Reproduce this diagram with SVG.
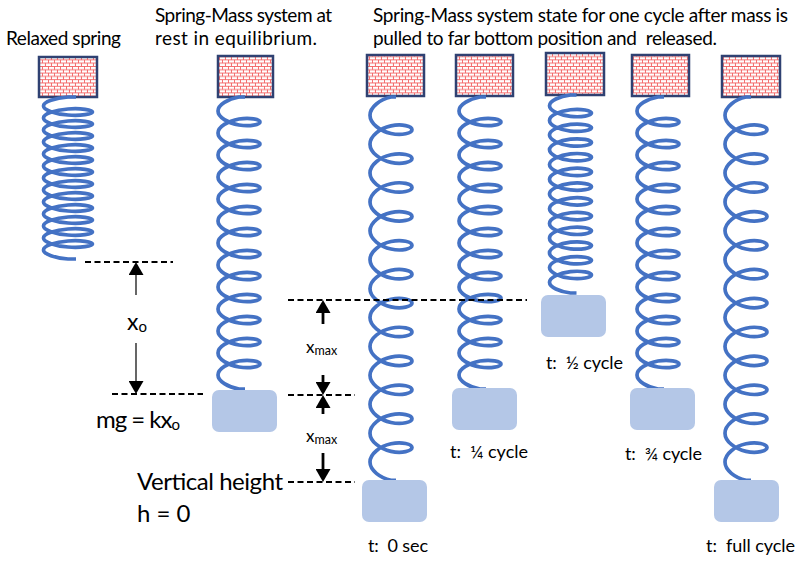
<svg xmlns="http://www.w3.org/2000/svg" xmlns:xlink="http://www.w3.org/1999/xlink" width="800" height="567" viewBox="0 0 800 567">
<style>
  text { font-family: Lato, "Open Sans", "Liberation Sans", sans-serif; fill: #000; }
  .title { font-size: 19px; }
  .tlab { font-size: 18px; }
  .box { fill: url(#brick); stroke: #2F4172; stroke-width: 2.5; }
  .spring { fill: none; stroke: #4472C4; stroke-width: 3.7; stroke-linecap: butt; stroke-linejoin: round; }
  .mass { fill: #B4C7E7; }
  .dash { stroke: #000; stroke-width: 2; stroke-dasharray: 6 3.5; fill: none; }
  .arr1 { stroke: #404040; stroke-width: 1.6; fill: none; marker-end: url(#ah); }
  .arr2 { stroke: #000; stroke-width: 2.8; fill: none; marker-end: url(#ah); }
</style>
<defs>
  <pattern id="brick" patternUnits="userSpaceOnUse" width="6" height="6.6">
    <rect width="6" height="6.6" fill="#fff"/>
    <path d="M0,0.45H6 M0,3.75H6 M0.45,0.45V3.75 M3.45,3.75V6.6" stroke="#F25C5C" stroke-width="0.9" fill="none"/>
  </pattern>
  <marker id="ah" markerUnits="userSpaceOnUse" viewBox="0 0 14 15" markerWidth="14" markerHeight="15" refX="3" refY="7.5" orient="auto">
    <path d="M0,0 L13,7.5 L0,15 z" fill="#000"/>
  </marker>
  <path id="sRel" class="spring" d="M8,0 h-8
    c-12.83,1 -24.5,4.86 -24.5,9 c0,4.14 11.67,8 24.5,9 c12.83,1 24.5,-0.86 24.5,-3 c0,-2.14 -11.67,-4 -24.5,-3
    c-12.83,1 -24.5,4.86 -24.5,9 c0,4.14 11.67,8 24.5,9 c12.83,1 24.5,-0.86 24.5,-3 c0,-2.14 -11.67,-4 -24.5,-3
    c-12.83,1 -24.5,4.86 -24.5,9 c0,4.14 11.67,8 24.5,9 c12.83,1 24.5,-0.86 24.5,-3 c0,-2.14 -11.67,-4 -24.5,-3
    c-12.83,1 -24.5,4.86 -24.5,9 c0,4.14 11.67,8 24.5,9 c12.83,1 24.5,-0.86 24.5,-3 c0,-2.14 -11.67,-4 -24.5,-3
    c-12.83,1 -24.5,4.86 -24.5,9 c0,4.14 11.67,8 24.5,9 c12.83,1 24.5,-0.86 24.5,-3 c0,-2.14 -11.67,-4 -24.5,-3
    c-12.83,1 -24.5,4.86 -24.5,9 c0,4.14 11.67,8 24.5,9 c12.83,1 24.5,-0.86 24.5,-3 c0,-2.14 -11.67,-4 -24.5,-3
    c-12.83,1 -24.5,4.86 -24.5,9 c0,4.14 11.67,8 24.5,9 c12.83,1 24.5,-0.86 24.5,-3 c0,-2.14 -11.67,-4 -24.5,-3
    c-12.83,1 -24.5,4.86 -24.5,9 c0,4.14 11.67,8 24.5,9 c12.83,1 24.5,-0.86 24.5,-3 c0,-2.14 -11.67,-4 -24.5,-3
    c-12.83,1 -24.5,4.86 -24.5,9 c0,4.14 11.67,8 24.5,9 c12.83,1 24.5,-0.86 24.5,-3 c0,-2.14 -11.67,-4 -24.5,-3
    c-12.83,1 -24.5,4.86 -24.5,9 c0,4.14 11.67,8 24.5,9 c12.83,1 24.5,-0.86 24.5,-3 c0,-2.14 -11.67,-4 -24.5,-3
    c-12.83,1 -24.5,4.86 -24.5,9 c0,4.14 11.67,8 24.5,9 c12.83,1 24.5,-0.86 24.5,-3 c0,-2.14 -11.67,-4 -24.5,-3
    c-12.83,1 -24.5,4.86 -24.5,9 c0,4.14 11.67,8 24.5,9 c12.83,1 24.5,-0.86 24.5,-3 c0,-2.14 -11.67,-4 -24.5,-3
    c-12.83,1 -24.5,4.86 -24.5,9 c0,4.14 11.67,8 24.5,9 h8"/>
  <path id="sEq" class="spring" d="M6,0 h-6
    c-11,1.83 -21,7.72 -21,14 c0,6.28 10,12.17 21,14 c11,1.83 21,-0.38 21,-3 c0,-2.62 -10,-4.83 -21,-3
    c-11,1.83 -21,7.72 -21,14 c0,6.28 10,12.17 21,14 c11,1.83 21,-0.38 21,-3 c0,-2.62 -10,-4.83 -21,-3
    c-11,1.83 -21,7.72 -21,14 c0,6.28 10,12.17 21,14 c11,1.83 21,-0.38 21,-3 c0,-2.62 -10,-4.83 -21,-3
    c-11,1.83 -21,7.72 -21,14 c0,6.28 10,12.17 21,14 c11,1.83 21,-0.38 21,-3 c0,-2.62 -10,-4.83 -21,-3
    c-11,1.83 -21,7.72 -21,14 c0,6.28 10,12.17 21,14 c11,1.83 21,-0.38 21,-3 c0,-2.62 -10,-4.83 -21,-3
    c-11,1.83 -21,7.72 -21,14 c0,6.28 10,12.17 21,14 c11,1.83 21,-0.38 21,-3 c0,-2.62 -10,-4.83 -21,-3
    c-11,1.83 -21,7.72 -21,14 c0,6.28 10,12.17 21,14 c11,1.83 21,-0.38 21,-3 c0,-2.62 -10,-4.83 -21,-3
    c-11,1.83 -21,7.72 -21,14 c0,6.28 10,12.17 21,14 c11,1.83 21,-0.38 21,-3 c0,-2.62 -10,-4.83 -21,-3
    c-11,1.83 -21,7.72 -21,14 c0,6.28 10,12.17 21,14 c11,1.83 21,-0.38 21,-3 c0,-2.62 -10,-4.83 -21,-3
    c-11,1.83 -21,7.72 -21,14 c0,6.28 10,12.17 21,14 c11,1.83 21,-0.38 21,-3 c0,-2.62 -10,-4.83 -21,-3
    c-11,1.83 -21,7.72 -21,14 c0,6.28 10,12.17 21,14 c11,1.83 21,-0.38 21,-3 c0,-2.62 -10,-4.83 -21,-3
    c-11,1.83 -21,7.72 -21,14 c0,6.28 10,12.17 21,14 c11,1.83 21,-0.38 21,-3 c0,-2.62 -10,-4.83 -21,-3
    c-11,1.83 -21,7.72 -21,14 c0,6.28 10,12.17 21,14 h6"/>
  <path id="sMax" class="spring" d="M5,0 h-5
    c-11,2.41 -21,10.06 -21,18.23 c0,8.17 10,15.82 21,18.23 c11,2.41 21,-0.42 21,-3.78 c0,-3.35 -10,-6.18 -21,-3.78
    c-11,2.41 -21,10.06 -21,18.23 c0,8.17 10,15.82 21,18.23 c11,2.41 21,-0.42 21,-3.78 c0,-3.35 -10,-6.18 -21,-3.78
    c-11,2.41 -21,10.06 -21,18.23 c0,8.17 10,15.82 21,18.23 c11,2.41 21,-0.42 21,-3.78 c0,-3.35 -10,-6.18 -21,-3.78
    c-11,2.41 -21,10.06 -21,18.23 c0,8.17 10,15.82 21,18.23 c11,2.41 21,-0.42 21,-3.78 c0,-3.35 -10,-6.18 -21,-3.78
    c-11,2.41 -21,10.06 -21,18.23 c0,8.17 10,15.82 21,18.23 c11,2.41 21,-0.42 21,-3.78 c0,-3.35 -10,-6.18 -21,-3.78
    c-11,2.41 -21,10.06 -21,18.23 c0,8.17 10,15.82 21,18.23 c11,2.41 21,-0.42 21,-3.78 c0,-3.35 -10,-6.18 -21,-3.78
    c-11,2.41 -21,10.06 -21,18.23 c0,8.17 10,15.82 21,18.23 c11,2.41 21,-0.42 21,-3.78 c0,-3.35 -10,-6.18 -21,-3.78
    c-11,2.41 -21,10.06 -21,18.23 c0,8.17 10,15.82 21,18.23 c11,2.41 21,-0.42 21,-3.78 c0,-3.35 -10,-6.18 -21,-3.78
    c-11,2.41 -21,10.06 -21,18.23 c0,8.17 10,15.82 21,18.23 c11,2.41 21,-0.42 21,-3.78 c0,-3.35 -10,-6.18 -21,-3.78
    c-11,2.41 -21,10.06 -21,18.23 c0,8.17 10,15.82 21,18.23 c11,2.41 21,-0.42 21,-3.78 c0,-3.35 -10,-6.18 -21,-3.78
    c-11,2.41 -21,10.06 -21,18.23 c0,8.17 10,15.82 21,18.23 c11,2.41 21,-0.42 21,-3.78 c0,-3.35 -10,-6.18 -21,-3.78
    c-11,2.41 -21,10.06 -21,18.23 c0,8.17 10,15.82 21,18.23 c11,2.41 21,-0.42 21,-3.78 c0,-3.35 -10,-6.18 -21,-3.78
    c-11,2.41 -21,10.06 -21,18.23 c0,8.17 10,15.82 21,18.23 h5"/>
  <path id="sMin" class="spring" d="M6,0 h-6
    c-11,1.23 -21,5.79 -21,10.68 c0,4.89 10,9.45 21,10.68 c11,1.23 21,-0.88 21,-3.32 c0,-2.44 -10,-4.55 -21,-3.32
    c-11,1.23 -21,5.79 -21,10.68 c0,4.89 10,9.45 21,10.68 c11,1.23 21,-0.88 21,-3.32 c0,-2.44 -10,-4.55 -21,-3.32
    c-11,1.23 -21,5.79 -21,10.68 c0,4.89 10,9.45 21,10.68 c11,1.23 21,-0.88 21,-3.32 c0,-2.44 -10,-4.55 -21,-3.32
    c-11,1.23 -21,5.79 -21,10.68 c0,4.89 10,9.45 21,10.68 c11,1.23 21,-0.88 21,-3.32 c0,-2.44 -10,-4.55 -21,-3.32
    c-11,1.23 -21,5.79 -21,10.68 c0,4.89 10,9.45 21,10.68 c11,1.23 21,-0.88 21,-3.32 c0,-2.44 -10,-4.55 -21,-3.32
    c-11,1.23 -21,5.79 -21,10.68 c0,4.89 10,9.45 21,10.68 c11,1.23 21,-0.88 21,-3.32 c0,-2.44 -10,-4.55 -21,-3.32
    c-11,1.23 -21,5.79 -21,10.68 c0,4.89 10,9.45 21,10.68 c11,1.23 21,-0.88 21,-3.32 c0,-2.44 -10,-4.55 -21,-3.32
    c-11,1.23 -21,5.79 -21,10.68 c0,4.89 10,9.45 21,10.68 c11,1.23 21,-0.88 21,-3.32 c0,-2.44 -10,-4.55 -21,-3.32
    c-11,1.23 -21,5.79 -21,10.68 c0,4.89 10,9.45 21,10.68 c11,1.23 21,-0.88 21,-3.32 c0,-2.44 -10,-4.55 -21,-3.32
    c-11,1.23 -21,5.79 -21,10.68 c0,4.89 10,9.45 21,10.68 c11,1.23 21,-0.88 21,-3.32 c0,-2.44 -10,-4.55 -21,-3.32
    c-11,1.23 -21,5.79 -21,10.68 c0,4.89 10,9.45 21,10.68 c11,1.23 21,-0.88 21,-3.32 c0,-2.44 -10,-4.55 -21,-3.32
    c-11,1.23 -21,5.79 -21,10.68 c0,4.89 10,9.45 21,10.68 c11,1.23 21,-0.88 21,-3.32 c0,-2.44 -10,-4.55 -21,-3.32
    c-11,1.23 -21,5.79 -21,10.68 c0,4.89 10,9.45 21,10.68 h6"/>
</defs>

<rect width="800" height="567" fill="#fff"/>

<g id="titles">
  <text class="title" x="155" y="22" textLength="177">Spring-Mass system at</text>
  <text class="title" x="155" y="45" textLength="162">rest in equilibrium.</text>
  <text class="title" x="373" y="22" textLength="415">Spring-Mass system state for one cycle after mass is</text>
  <text class="title" x="373" y="45" textLength="344" xml:space="preserve">pulled to far bottom position and  released.</text>
</g>

<g id="relaxed">
  <text class="title" x="6" y="45" textLength="115">Relaxed spring</text>
  <rect class="box" x="39" y="57" width="58" height="40"/>
  <use xlink:href="#sRel" href="#sRel" transform="translate(68,97)"/>
</g>

<g id="equilibrium">
  <rect class="box" x="218" y="56" width="55" height="41"/>
  <use xlink:href="#sEq" href="#sEq" transform="translate(239,97)"/>
  <rect class="mass" x="212" y="390" width="65" height="42" rx="7"/>
</g>

<g id="t0">
  <rect class="box" x="367" y="55" width="57" height="41"/>
  <use xlink:href="#sMax" href="#sMax" transform="translate(391,97)"/>
  <rect class="mass" x="362" y="480" width="65" height="42" rx="7"/>
  <text class="tlab" x="368" y="552" textLength="60" xml:space="preserve">t:  0 sec</text>
</g>

<g id="t-quarter">
  <rect class="box" x="456" y="55" width="57" height="41"/>
  <use xlink:href="#sEq" href="#sEq" transform="translate(480,97)"/>
  <rect class="mass" x="452" y="388" width="65" height="42" rx="7"/>
  <text class="tlab" x="450" y="458" textLength="78" xml:space="preserve">t:  ¼ cycle</text>
</g>

<g id="t-half">
  <rect class="box" x="546" y="53" width="58" height="42"/>
  <use xlink:href="#sMin" href="#sMin" transform="translate(570.5,95)"/>
  <rect class="mass" x="541" y="295" width="65" height="42" rx="7"/>
  <text class="tlab" x="546" y="369" textLength="77" xml:space="preserve">t:  ½ cycle</text>
</g>

<g id="t-three-quarter">
  <rect class="box" x="632" y="55" width="57" height="41"/>
  <use xlink:href="#sEq" href="#sEq" transform="translate(658,97)"/>
  <rect class="mass" x="630" y="388" width="65" height="42" rx="7"/>
  <text class="tlab" x="625" y="460" textLength="77" xml:space="preserve">t:  ¾ cycle</text>
</g>

<g id="t-full">
  <rect class="box" x="722" y="56" width="58" height="41"/>
  <use xlink:href="#sMax" href="#sMax" transform="translate(746,97)"/>
  <rect class="mass" x="714" y="480" width="65" height="42" rx="7"/>
  <text class="tlab" x="706" y="552" textLength="89" xml:space="preserve">t:  full cycle</text>
</g>

<g id="labels">
  <text x="127" y="330" font-size="23">x<tspan font-size="15" dy="2">o</tspan></text>
  <text x="96" y="428" font-size="24" textLength="84">mg = kx<tspan font-size="15" dy="2">o</tspan></text>
  <text x="306" y="353" font-size="17">x<tspan font-size="12.5" dy="1.5">max</tspan></text>
  <text x="306" y="442" font-size="17">x<tspan font-size="12.5" dy="1.5">max</tspan></text>
  <text x="137" y="490" font-size="24" textLength="146">Vertical height</text>
  <text x="137" y="522" font-size="24">h = 0</text>
</g>

<g id="connectors">
  <line class="dash" x1="85" y1="262" x2="173" y2="262"/>
  <line class="dash" x1="112" y1="394" x2="203" y2="394"/>
  <line class="dash" x1="288" y1="300" x2="527" y2="300"/>
  <line class="dash" x1="288" y1="395" x2="355" y2="395"/>
  <line class="dash" x1="288" y1="482" x2="355" y2="482"/>
  <line class="arr1" x1="136" y1="295" x2="136" y2="272"/>
  <line class="arr1" x1="136" y1="343" x2="136" y2="384"/>
  <line class="arr2" x1="323" y1="324" x2="323" y2="310"/>
  <line class="arr2" x1="323" y1="375" x2="323" y2="385"/>
  <line class="arr2" x1="323" y1="414" x2="323" y2="405"/>
  <line class="arr2" x1="323" y1="453" x2="323" y2="472"/>
</g>
</svg>
